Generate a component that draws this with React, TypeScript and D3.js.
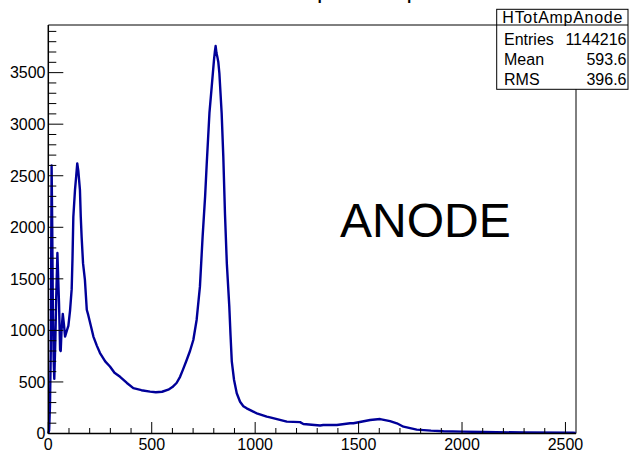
import React from "react";
import * as d3 from "d3";

// Histogram readings (amplitude, counts)
const amp = [0, 4, 8, 12, 16, 19, 22, 26, 29, 34, 38, 44, 48, 52, 57, 60, 64, 70, 76, 81, 90, 97, 105, 113, 117, 121, 129, 135, 140, 145, 153, 157, 161, 168, 177, 186, 193, 205, 218, 235, 250, 275, 298, 320, 347, 380, 411, 450, 492, 520, 550, 580, 600, 620, 637, 651, 669, 685, 701, 717, 733, 746, 758, 766, 779, 790, 801, 805, 809, 813, 817, 822, 827, 838, 846, 854, 863, 875, 881, 887, 898, 911, 927, 943, 959, 991, 1008, 1056, 1072, 1153, 1217, 1233, 1314, 1329, 1395, 1459, 1475, 1556, 1604, 1652, 1685, 1717, 1781, 1850, 1910, 2000, 2102, 2300, 2537, 2550];
const counts = [0, 30, 260, 800, 2600, 2000, 1200, 700, 530, 900, 1300, 1750, 1500, 1250, 810, 800, 1000, 1160, 1050, 940, 1000, 1043, 1190, 1400, 1700, 2100, 2360, 2500, 2620, 2550, 2360, 2100, 1910, 1650, 1490, 1200, 1150, 1050, 940, 850, 780, 700, 650, 590, 550, 490, 440, 420, 406, 400, 405, 425, 450, 490, 550, 620, 713, 800, 907, 1101, 1424, 1909, 2297, 2621, 3109, 3364, 3623, 3700, 3758, 3690, 3655, 3600, 3494, 3109, 2685, 2136, 1651, 1230, 950, 700, 519, 390, 308, 265, 244, 212, 196, 163, 157, 115, 110, 92, 78, 82, 82, 99, 99, 131, 140, 120, 99, 66, 38, 28, 22, 18, 14, 10, 8, 6];

const xMajor = [0, 500, 1000, 1500, 2000, 2500];
const yMajor = [0, 500, 1000, 1500, 2000, 2500, 3000, 3500];

const statsName = "HTotAmpAnode";
const statLabels = ["Entries", "Mean", "RMS"];
const statValues = ["1144216", "593.6", "396.6"];
const titleText = "Total Amplitude spectrum";
const labelText = "ANODE";

const W = 631, H = 452;
const F = "'Liberation Sans', Arial, Helvetica, sans-serif";

export default function App() {
  const x0 = 48.3, x1 = 576, yTop = 25, yBot = 433.5;
  const x = d3.scaleLinear().domain([0, 2551]).range([x0, x1]);
  const y = d3.scaleLinear().domain([0, 3962]).range([yBot, yTop]);
  const pts: [number, number][] = amp.map((a, i) => [a, counts[i]]);
  const line = d3.line<[number, number]>().x(d => x(d[0])).y(d => y(d[1]));

  const xMinor = d3.range(0, 2551, 100).filter(v => v % 500 !== 0);
  const yMinor = d3.range(0, 3962, 100).filter(v => v % 500 !== 0);

  const bx0 = 496.7, bx1 = 628, by0 = 9.3, by1 = 89.3, bsep = 25;
  const rowBase = [45, 65, 85];

  return (
    <svg width={W} height={H} style={{ position: "absolute", left: 0, top: 0, background: "#fff" }} fontFamily={F}>
      <rect x={0} y={0} width={W} height={H} fill="#fff" />
      {/* title (mostly cut off at top) */}
      <text x={225} y={-2} fontSize={24} fill="#000">{titleText}</text>
      {/* frame */}
      <line x1={x0} x2={x1} y1={yTop} y2={yTop} stroke="#000" strokeWidth={1} />
      <line x1={x1} x2={x1} y1={yTop} y2={yBot} stroke="#000" strokeWidth={1} />
      {/* curve */}
      <path d={line(pts) || ""} fill="none" stroke="#000099" strokeWidth={2.4} strokeLinejoin="round" />
      {/* x axis */}
      <line x1={x0} x2={x1} y1={yBot} y2={yBot} stroke="#000" strokeWidth={1.5} />
      {xMajor.map(v => (
        <g key={"xm" + v}>
          <line x1={x(v)} x2={x(v)} y1={yBot} y2={yBot - 11.5} stroke="#000" strokeWidth={1} />
          <text x={x(v)} y={450} fontSize={16} textAnchor="middle" fill="#000">{v}</text>
        </g>
      ))}
      {xMinor.map(v => (
        <line key={"xn" + v} x1={x(v)} x2={x(v)} y1={yBot} y2={yBot - 5.5} stroke="#000" strokeWidth={1} />
      ))}
      {/* y axis */}
      <line x1={x0} x2={x0} y1={yTop} y2={yBot} stroke="#000" strokeWidth={1.5} />
      {yMajor.map(v => (
        <g key={"ym" + v}>
          <line x1={x0} x2={x0 + 15} y1={y(v)} y2={y(v)} stroke="#000" strokeWidth={1} />
          <text x={45.5} y={y(v) + 5.8} fontSize={16} textAnchor="end" fill="#000">{v}</text>
        </g>
      ))}
      {yMinor.map(v => (
        <line key={"yn" + v} x1={x0} x2={x0 + 8} y1={y(v)} y2={y(v)} stroke="#000" strokeWidth={1} />
      ))}
      {/* big label */}
      <text x={340} y={237} fontSize={48} fill="#000">{labelText}</text>
      {/* stats box */}
      <rect x={bx0} y={by0} width={bx1 - bx0} height={by1 - by0} fill="#fff" stroke="#000" strokeWidth={1} />
      <line x1={bx0} x2={bx1} y1={bsep} y2={bsep} stroke="#000" strokeWidth={1} />
      <text x={(bx0 + bx1) / 2} y={22.5} fontSize={16} textAnchor="middle" textLength={120} fill="#000">{statsName}</text>
      {statLabels.map((l, i) => (
        <g key={l}>
          <text x={504} y={rowBase[i]} fontSize={16} fill="#000">{l}</text>
          <text x={626.5} y={rowBase[i]} fontSize={16} textAnchor="end" fill="#000">{statValues[i]}</text>
        </g>
      ))}
    </svg>
  );
}
